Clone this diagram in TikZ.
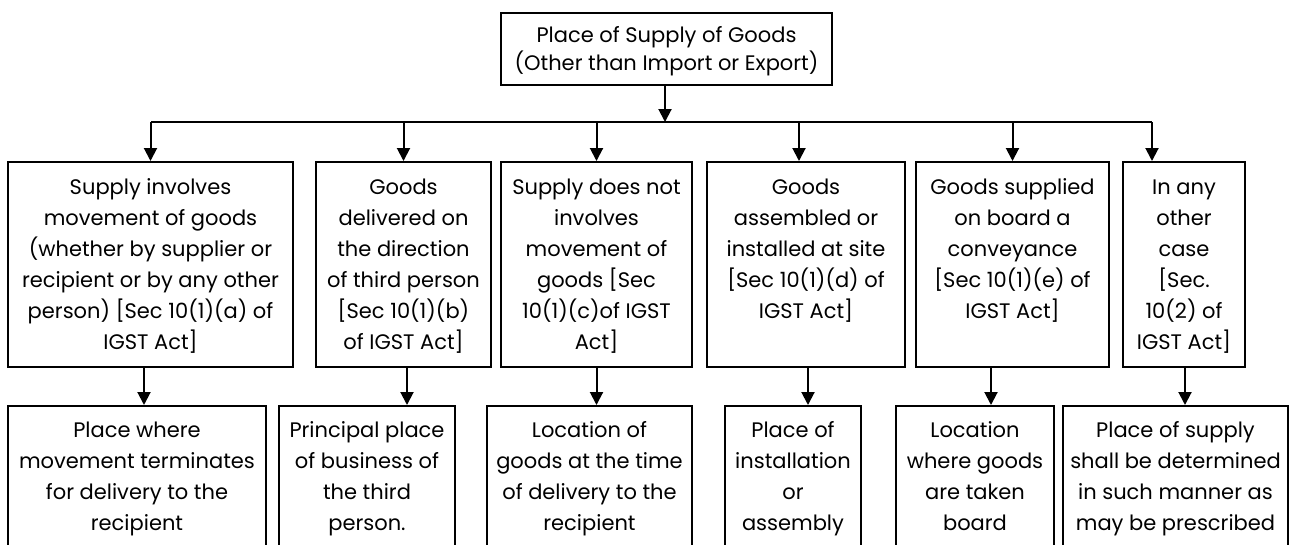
\documentclass[tikz,border=0pt]{standalone}
\usepackage{fontspec}
\setmainfont{Poppins}
\usetikzlibrary{arrows.meta,calc}
\newcommand\firstlinestrut{\rule{0pt}{24pt}}
\begin{document}
\begin{tikzpicture}[x=1pt,y=-1pt,
  box/.style={draw, line width=2pt, inner sep=0pt, align=center, font=\fontsize{21}{31}\selectfont,
    execute at end node=\strut},
  rowone/.style={box, minimum height=205pt},
  rowtwo/.style={box, minimum height=142pt},
  arr/.style={line width=2pt, -{Triangle[length=13pt,width=13pt]}},
  ln/.style={line width=2pt}]
\useasboundingbox (0,0) rectangle (1293,544);
\node[box, minimum width=331pt, minimum height=72pt, font=\fontsize{21}{28}\selectfont] (top) at (666.5,49) {\firstlinestrut Place of Supply of Goods\\(Other than Import or Export)};
% row one
\node[rowone, minimum width=285pt] (b1) at (150.5,264.5) {\firstlinestrut Supply involves\\movement of goods\\(whether by supplier or\\recipient or by any other\\person) [Sec 10(1)(a) of\\IGST Act]};
\node[rowone, minimum width=175pt] (b2) at (403.5,264.5) {\firstlinestrut Goods\\delivered on\\the direction\\of third person\\{}[Sec 10(1)(b)\\of IGST Act]};
\node[rowone, minimum width=191pt] (b3) at (596.5,264.5) {\firstlinestrut Supply does not\\involves\\movement of\\goods [Sec\\10(1)(c)of IGST\\Act]};
\node[rowone, minimum width=198pt] (b4) at (806,264.5) {\firstlinestrut Goods\\assembled or\\installed at site\\{}[Sec 10(1)(d) of\\IGST Act]\\\mbox{}};
\node[rowone, minimum width=193pt] (b5) at (1012.5,264.5) {\firstlinestrut Goods supplied\\on board a\\conveyance\\{}[Sec 10(1)(e) of\\IGST Act]\\\mbox{}};
\node[rowone, minimum width=122pt] (b6) at (1184,264.5) {\firstlinestrut In any\\other\\case\\{}[Sec.\\10(2) of\\IGST Act]};
% row two
\node[rowtwo, minimum width=258pt] (c1) at (137,477) {\firstlinestrut Place where\\movement terminates\\for delivery to the\\recipient};
\node[rowtwo, minimum width=176pt] (c2) at (367,477) {\firstlinestrut Principal place\\of business of\\the third\\person.};
\node[rowtwo, minimum width=205pt] (c3) at (589.5,477) {\firstlinestrut Location of\\goods at the time\\of delivery to the\\recipient};
\node[rowtwo, minimum width=136pt] (c4) at (793,477) {\firstlinestrut Place of\\installation\\or\\assembly};
\node[rowtwo, minimum width=158pt] (c5) at (975,477) {\firstlinestrut Location\\where goods\\are taken\\board};
\node[rowtwo, minimum width=225pt] (c6) at (1175.5,477) {\firstlinestrut Place of supply\\shall be determined\\in such manner as\\may be prescribed};
% bus
\coordinate (busL) at (151,122);
\coordinate (busR) at (1152,122);
\draw[arr] ($(top.south)+(-1.5,0)$) -- ($(top.south |- busL)+(-1.5,0)$);
\draw[ln] (busL) -- (busR);
\draw[arr] (b1.north |- busL) -- (b1.north);
\draw[arr] (b2.north |- busL) -- (b2.north);
\draw[arr] (b3.north |- busL) -- (b3.north);
\draw[arr] ($(b4.north |- busL)+(-7,0)$) -- ($(b4.north)+(-7,0)$);
\draw[arr] (b5.north |- busL) -- (b5.north);
\draw[arr] (busR) -- (busR |- b6.north);
% row one to row two
\draw[arr] ($(b1.south)+(-6.5,0)$) -- ($(c1.north -| b1.south)+(-6.5,0)$);
\draw[arr] ($(b2.south)+(3.5,0)$) -- ($(c2.north -| b2.south)+(3.5,0)$);
\draw[arr] (b3.south) -- (c3.north -| b3.south);
\draw[arr] ($(b4.south)+(2,0)$) -- ($(c4.north -| b4.south)+(2,0)$);
\draw[arr] ($(b5.south)+(-21.5,0)$) -- ($(c5.north -| b5.south)+(-21.5,0)$);
\draw[arr] ($(b6.south)+(1,0)$) -- ($(c6.north -| b6.south)+(1,0)$);
\end{tikzpicture}
\end{document}
